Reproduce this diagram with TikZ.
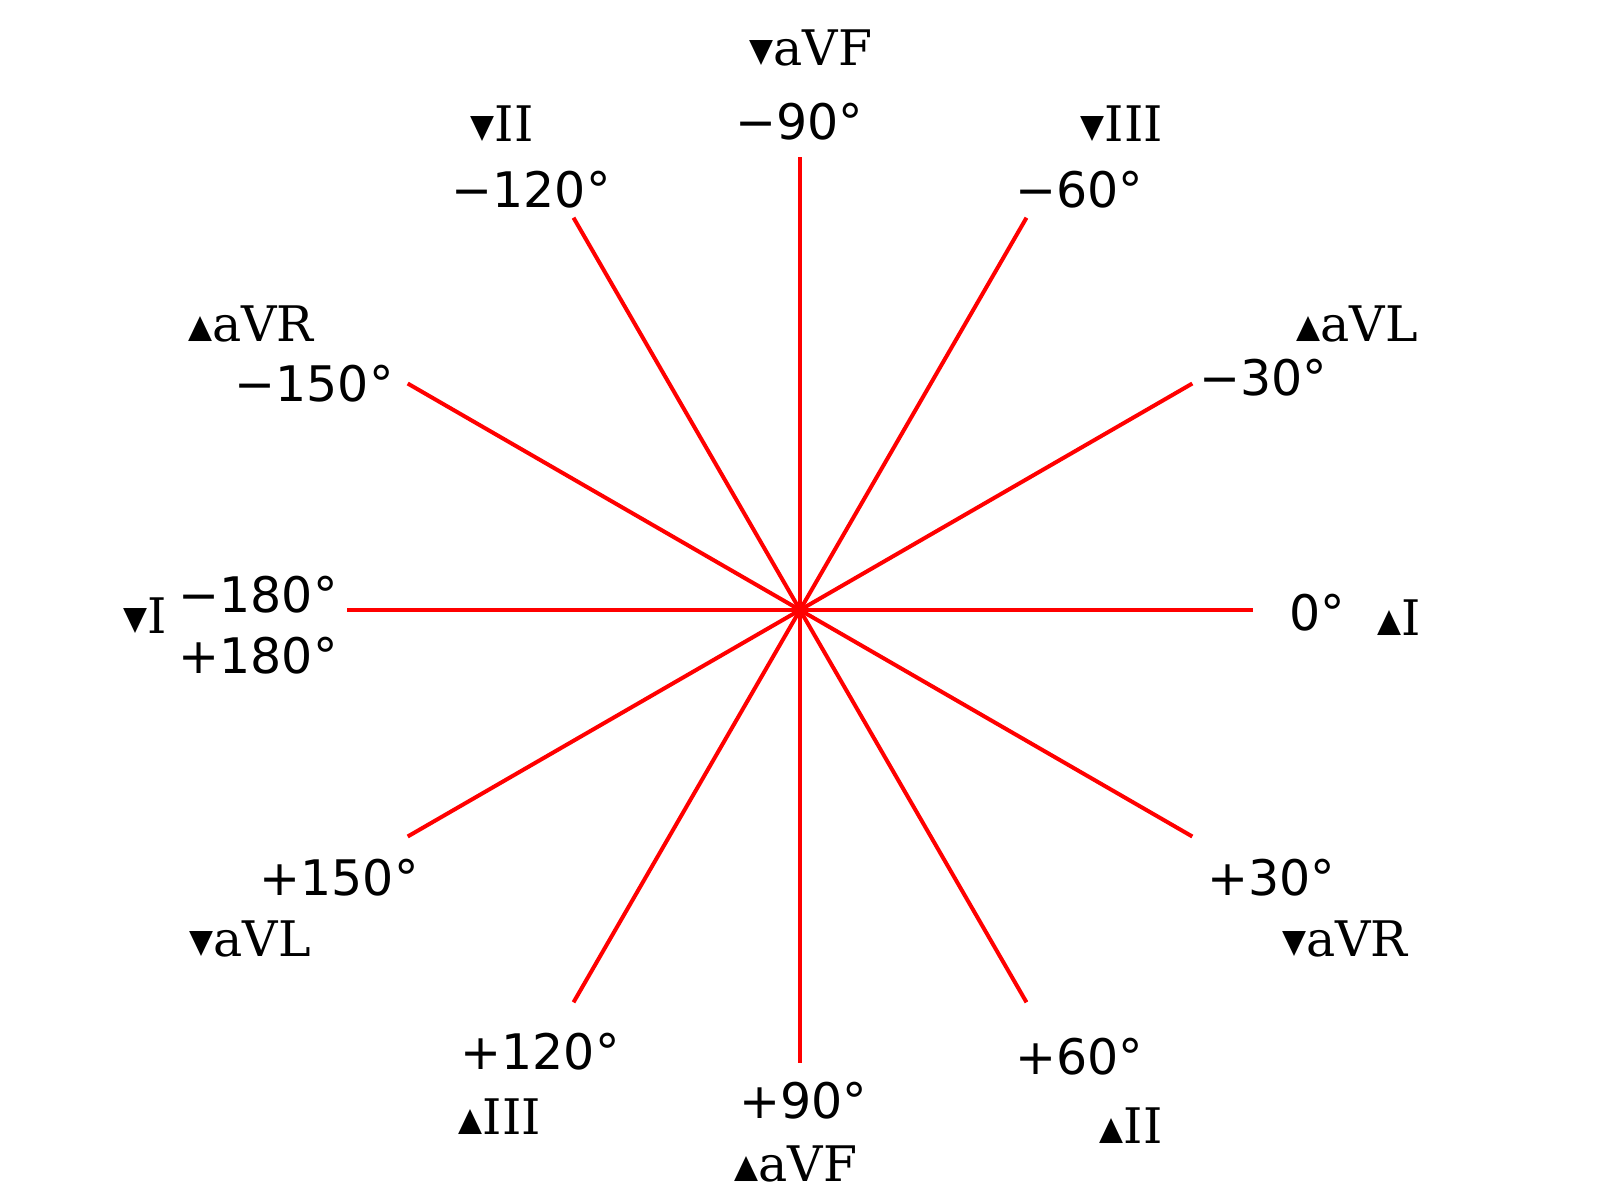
\documentclass[tikz,border=0pt]{standalone}
\usepackage{fontspec}
\usetikzlibrary{calc}
\setmainfont{DejaVu Serif}
\setsansfont{DejaVu Sans}
\newfontfamily\trifont{DejaVu Sans}
\newcommand{\dn}{\raisebox{\depth}{\resizebox*{12pt}{12.5pt}{\trifont ▼}}}
\newcommand{\up}{\raisebox{\depth}{\resizebox*{12pt}{12.5pt}{\trifont ▲}}}
\begin{document}
\begin{tikzpicture}[x=0.5pt,y=-0.5pt,
  axis/.style={draw=red,line width=2pt},
  deg/.style={font=\sffamily\fontsize{24.5}{24.5}\selectfont,inner sep=0pt},
  lead/.style={font=\rmfamily\fontsize{24.5}{24.5}\selectfont,inner sep=0pt}]
\useasboundingbox (0,0) rectangle (1600,1201);
\coordinate (c) at (800,610);
\foreach \a/\n in {0/e0,30/e30,60/e60,90/e90,120/e120,150/e150,180/e180,210/e210,240/e240,270/e270,300/e300,330/e330}{
  \coordinate (\n) at ($(c)+(\a:453)$);
}
\foreach \n in {e0,e30,e60,e90,e120,e150}{
  \draw[axis] (c) -- (\n);
}
\foreach \n in {e180,e210,e240,e270,e300,e330}{
  \draw[axis] (c) -- (\n);
}
% degree labels
\node[deg] (d0) at (1317,613) {0°};
\node[deg] (dm30) at (1263,378) {−30°};
\node[deg] (dm60) at (1079,190) {−60°};
\node[deg] (dm90) at (799,122) {−90°};
\node[deg] (dm120) at (531,190) {−120°};
\node[deg] (dm150) at (314,384) {−150°};
\node[deg] (dm180) at (258,595) {−180°};
\node[deg] (dp180) at (258,656) {+180°};
\node[deg] (dp150) at (339,878) {+150°};
\node[deg] (dp120) at (540,1052) {+120°};
\node[deg] (dp90) at (803,1101) {+90°};
\node[deg] (dp60) at (1079,1057) {+60°};
\node[deg] (dp30) at (1271,878) {+30°};
% lead labels
\node[lead] (l1) at (811,48) {\dn aVF};
\node[lead] (l2) at (502,124) {\dn II};
\node[lead] (l3) at (1122,124) {\dn III};
\node[lead] (l4) at (251,324) {\up aVR};
\node[lead] (l5) at (1357,324) {\up aVL};
\node[lead] (l6) at (145,616) {\dn I};
\node[lead] (l7) at (1399,618) {\up I};
\node[lead] (l8) at (250,939) {\dn aVL};
\node[lead] (l9) at (1345,939) {\dn aVR};
\node[lead] (l10) at (500,1117) {\up III};
\node[lead] (l11) at (796,1164) {\up aVF};
\node[lead] (l12) at (1131,1126) {\up II};
\end{tikzpicture}
\end{document}
